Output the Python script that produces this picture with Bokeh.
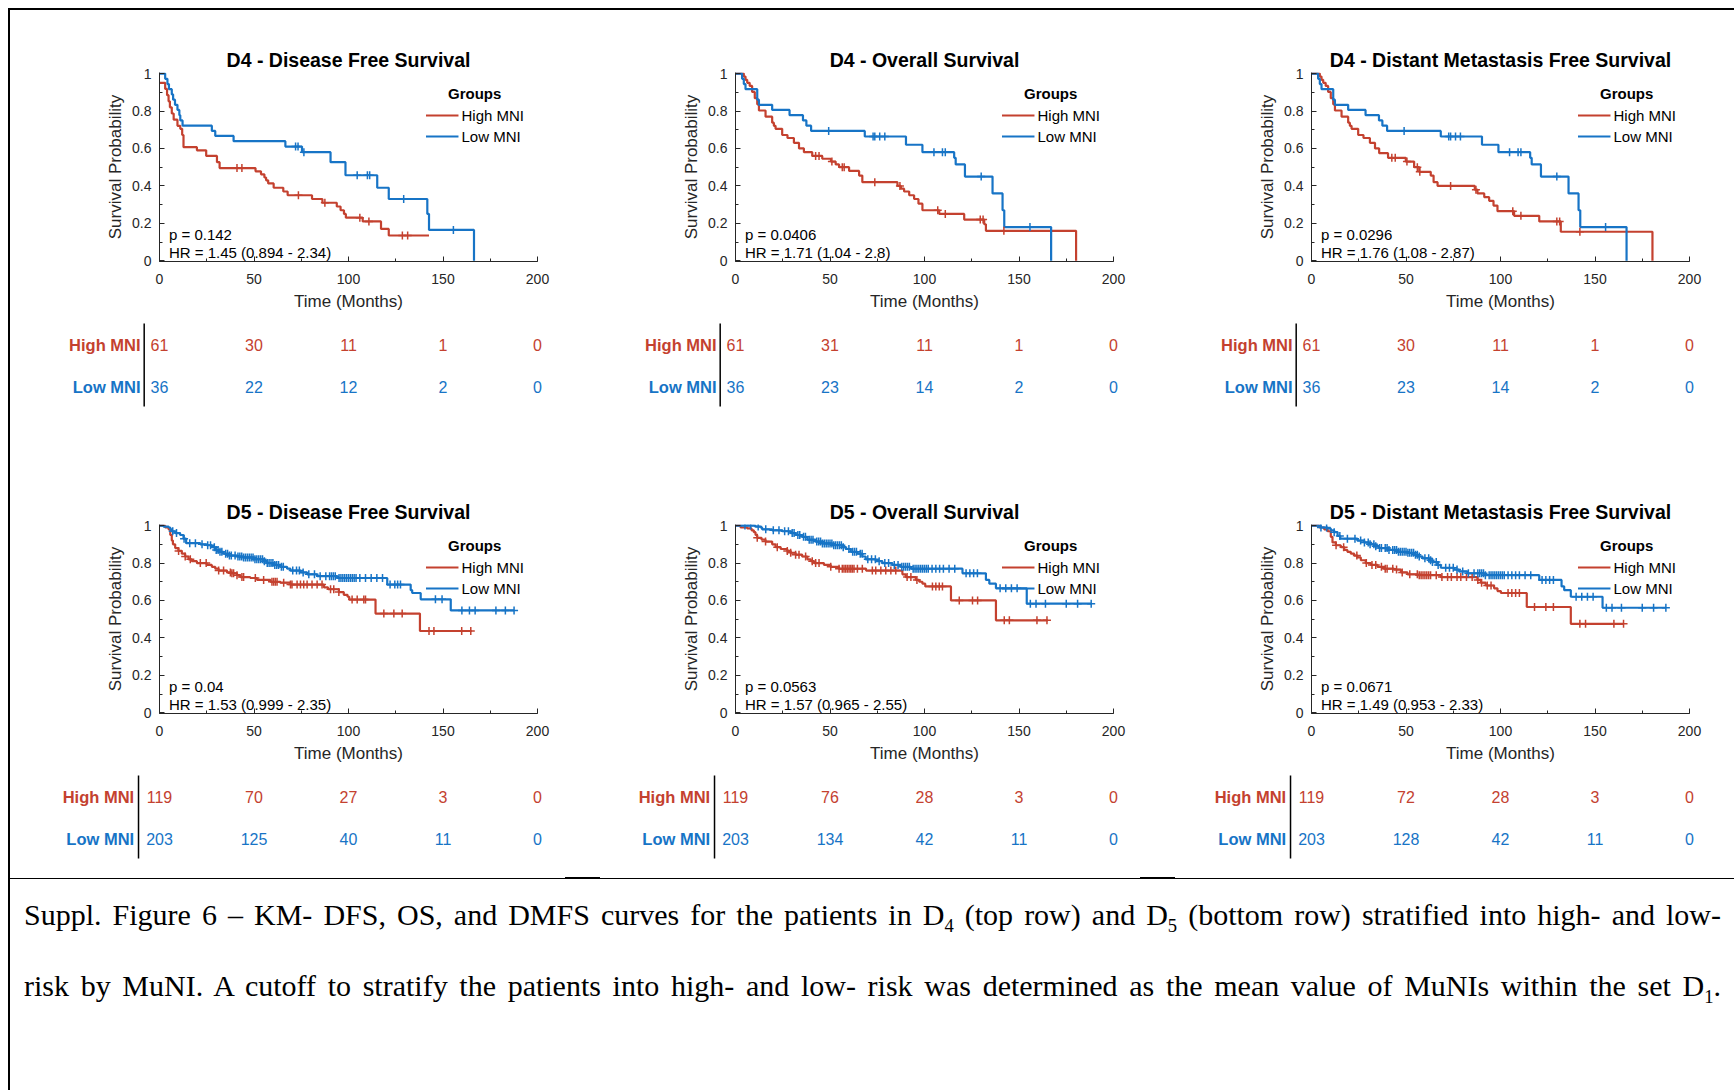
from bokeh.plotting import figure
from bokeh.models import Range1d, FixedTicker, NumeralTickFormatter, Label, Legend, LegendItem, Div, Arrow
from bokeh.layouts import column, row
from bokeh.embed import file_html
from bokeh.resources import INLINE

RED = "#C4412F"
BLUE = "#1774C6"
AXIS = "#262626"
FONT = "Liberation Sans"

x_ticks = [0, 50, 100, 150, 200]
x_minor = [0, 25, 50, 75, 100, 125, 150, 175, 200]
y_ticks = [0, 0.2, 0.4, 0.6, 0.8, 1]
y_minor = [0, 0.1, 0.2, 0.3, 0.4, 0.5, 0.6, 0.7, 0.8, 0.9, 1.0]
risk_times = [0, 50, 100, 150, 200]
group_labels = ["High MNI", "Low MNI"]

# ---------------- D4 - Disease Free Survival ----------------
d4_dfs_high_t = [0, 3.0, 4.0, 4.8, 5.5, 6.5, 7.5, 9.5, 11.0, 12.0, 12.7, 19.8, 24.7, 30.4, 31.8, 50.8, 53.7, 55.5, 56.4, 57.5, 60.4, 65.5, 67.8, 80.7, 86.2, 93.8, 95.8, 97.6, 98.6, 107.5, 117.2, 121.3, 142.6]
d4_dfs_high_s = [0.951, 0.918, 0.885, 0.852, 0.820, 0.787, 0.754, 0.721, 0.705, 0.672, 0.607, 0.590, 0.560, 0.527, 0.495, 0.478, 0.462, 0.445, 0.430, 0.413, 0.390, 0.370, 0.350, 0.330, 0.310, 0.290, 0.270, 0.250, 0.230, 0.210, 0.170, 0.135, 0.135]
d4_dfs_high_cens = [41.0, 43.6, 73.5, 87.5, 106.0, 110.8, 128.5, 131.3]
d4_dfs_low_t = [0, 3.0, 4.2, 5.0, 6.5, 7.2, 8.2, 9.5, 10.5, 11.0, 12.2, 27.7, 29.5, 39.2, 66.6, 75.4, 90.5, 98.4, 115.2, 121.3, 141.7, 142.6, 166.4]
d4_dfs_low_s = [1.0, 0.972, 0.944, 0.917, 0.889, 0.861, 0.833, 0.806, 0.778, 0.750, 0.722, 0.694, 0.667, 0.639, 0.610, 0.580, 0.527, 0.457, 0.390, 0.330, 0.250, 0.165, 0.0]
d4_dfs_low_cens = [72.0, 73.3, 76.4, 104.6, 110.0, 111.2, 129.2, 155.5]
d4_dfs_risk_high = [61, 30, 11, 1, 0]
d4_dfs_risk_low = [36, 22, 12, 2, 0]

# ---------------- D4 - Overall Survival ----------------
d4_os_high_t = [0, 4.4, 5.3, 6.2, 7.5, 8.8, 10.2, 11.5, 12.4, 15.9, 19.4, 20.3, 21.2, 24.7, 27.5, 30.9, 33.6, 36.2, 40.6, 45.9, 50.5, 53.0, 54.8, 60.1, 65.4, 67.1, 85.7, 87.5, 89.2, 91.9, 94.5, 96.8, 98.9, 107.8, 121.0, 131.6, 132.5, 180.2]
d4_os_high_s = [1.0, 0.984, 0.967, 0.951, 0.934, 0.902, 0.869, 0.836, 0.803, 0.770, 0.738, 0.721, 0.705, 0.672, 0.656, 0.630, 0.600, 0.580, 0.560, 0.545, 0.530, 0.515, 0.500, 0.480, 0.455, 0.420, 0.400, 0.385, 0.370, 0.350, 0.330, 0.305, 0.270, 0.250, 0.220, 0.195, 0.160, 0.0]
d4_os_high_cens = [42.4, 44.2, 51.0, 56.5, 57.5, 73.7, 87.0, 107.0, 111.0, 129.5, 131.0, 142.0]
d4_os_low_t = [0, 3.5, 4.4, 5.3, 11.5, 12.4, 19.4, 28.6, 35.7, 37.5, 40.0, 68.4, 90.2, 98.9, 115.7, 116.5, 121.4, 136.0, 141.3, 142.2, 167.0]
d4_os_low_s = [1.0, 0.972, 0.944, 0.917, 0.861, 0.833, 0.806, 0.778, 0.750, 0.722, 0.694, 0.664, 0.620, 0.580, 0.550, 0.515, 0.450, 0.360, 0.270, 0.180, 0.0]
d4_os_low_cens = [49.3, 72.8, 73.7, 76.3, 79.0, 105.0, 109.5, 111.0, 130.0, 155.8]
d4_os_risk_high = [61, 31, 11, 1, 0]
d4_os_risk_low = [36, 23, 14, 2, 0]

# ---------------- D4 - Distant Metastasis Free Survival ----------------
d4_dmfs_high_t = [0, 4.4, 5.3, 6.2, 7.5, 8.8, 10.2, 11.5, 12.4, 15.9, 19.4, 20.3, 21.2, 24.7, 27.5, 30.9, 33.6, 35.8, 40.5, 49.9, 54.3, 57.0, 63.1, 64.6, 66.7, 86.4, 87.8, 91.4, 94.0, 96.3, 98.4, 107.2, 120.5, 131.9, 180.4]
d4_dmfs_high_s = [1.0, 0.984, 0.967, 0.951, 0.934, 0.902, 0.869, 0.836, 0.803, 0.770, 0.738, 0.721, 0.705, 0.672, 0.656, 0.630, 0.600, 0.575, 0.550, 0.530, 0.500, 0.475, 0.455, 0.420, 0.400, 0.380, 0.360, 0.340, 0.320, 0.295, 0.265, 0.240, 0.210, 0.155, 0.0]
d4_dmfs_high_cens = [42.5, 44.3, 50.5, 56.0, 57.3, 73.6, 87.0, 106.5, 110.8, 129.8, 131.3, 142.0]
d4_dmfs_low_t = [0, 3.5, 4.4, 5.3, 11.5, 12.4, 19.4, 28.6, 35.7, 37.5, 40.0, 68.4, 90.2, 98.9, 115.7, 116.5, 121.4, 136.0, 141.3, 142.2, 166.7]
d4_dmfs_low_s = [1.0, 0.972, 0.944, 0.917, 0.861, 0.833, 0.806, 0.778, 0.750, 0.722, 0.694, 0.664, 0.620, 0.580, 0.550, 0.515, 0.450, 0.360, 0.270, 0.180, 0.0]
d4_dmfs_low_cens = [49.0, 72.6, 73.6, 76.2, 78.8, 104.8, 109.3, 110.8, 129.8, 155.6]
d4_dmfs_risk_high = [61, 30, 11, 1, 0]
d4_dmfs_risk_low = [36, 23, 14, 2, 0]

# ---------------- D5 - Disease Free Survival ----------------
d5_dfs_high_t = [0, 3.0, 4.8, 5.7, 6.5, 7.1, 8.3, 10.0, 11.8, 13.6, 15.4, 17.1, 19.8, 25.0, 27.7, 29.5, 31.3, 35.7, 38.3, 41.0, 42.8, 48.0, 51.6, 58.7, 64.0, 69.3, 87.0, 89.2, 94.9, 97.5, 99.5, 100.4, 114.3, 137.8, 165.2]
d5_dfs_high_s = [1.0, 0.99, 0.98, 0.95, 0.92, 0.90, 0.88, 0.865, 0.85, 0.835, 0.82, 0.81, 0.80, 0.79, 0.78, 0.77, 0.76, 0.75, 0.745, 0.735, 0.725, 0.72, 0.71, 0.70, 0.695, 0.685, 0.67, 0.66, 0.645, 0.63, 0.62, 0.605, 0.53, 0.437, 0.437]
d5_dfs_high_cens = [10.1, 13.6, 16.3, 21.6, 24.7, 31.3, 33.9, 37.5, 38.3, 39.2, 41.0, 43.6, 44.5, 50.7, 55.1, 59.5, 60.4, 61.3, 62.2, 65.7, 69.3, 70.1, 72.8, 74.6, 76.3, 78.1, 80.7, 83.4, 86.0, 90.5, 92.2, 94.9, 101.9, 104.6, 108.1, 109.0, 118.7, 124.0, 128.4, 142.6, 145.2, 159.9, 164.7]
d5_dfs_low_t = [0, 2.1, 4.8, 5.7, 6.5, 8.3, 10.9, 12.7, 14.1, 21.6, 25.0, 27.7, 29.5, 31.3, 33.9, 36.6, 41.0, 44.5, 49.8, 55.1, 56.9, 60.4, 64.0, 67.5, 69.3, 74.6, 78.1, 83.4, 94.0, 120.5, 132.9, 133.7, 138.2, 154.1, 187.6]
d5_dfs_low_s = [1.0, 0.995, 0.99, 0.98, 0.97, 0.96, 0.95, 0.93, 0.906, 0.90, 0.895, 0.885, 0.87, 0.86, 0.85, 0.84, 0.835, 0.83, 0.82, 0.81, 0.80, 0.79, 0.78, 0.77, 0.76, 0.75, 0.74, 0.73, 0.72, 0.685, 0.655, 0.64, 0.606, 0.547, 0.547]
d5_dfs_low_cens = [7.0, 9.0, 13.0, 16.0, 19.0, 22.5, 25.5, 27.0, 29.0, 30.0, 31.0, 32.0, 33.0, 35.0, 36.0, 37.0, 38.0, 40.0, 41.5, 42.5, 43.5, 44.5, 45.5, 46.5, 47.5, 48.5, 49.5, 50.5, 51.5, 52.5, 53.5, 54.5, 55.5, 57.0, 58.0, 59.0, 60.0, 61.0, 62.0, 63.0, 64.5, 65.5, 70.5, 72.5, 74.0, 76.0, 79.0, 82.0, 85.0, 88.0, 90.0, 91.0, 92.0, 93.0, 95.0, 96.0, 97.0, 98.0, 99.0, 100.0, 101.0, 102.0, 103.0, 104.0, 106.0, 109.0, 112.0, 115.0, 118.0, 122.0, 124.5, 126.0, 127.5, 146.0, 149.5, 160.0, 164.0, 167.0, 178.0, 183.0, 187.6]
d5_dfs_risk_high = [119, 70, 27, 3, 0]
d5_dfs_risk_low = [203, 125, 40, 11, 0]

# ---------------- D5 - Overall Survival ----------------
d5_os_high_t = [0, 2.7, 6.2, 8.5, 9.7, 10.6, 11.5, 13.8, 15.9, 19.4, 21.2, 23.9, 27.4, 29.2, 31.8, 35.3, 38.0, 39.8, 41.5, 46.8, 50.4, 54.8, 69.1, 88.3, 90.1, 95.4, 97.2, 98.9, 100.4, 114.0, 137.8, 165.2]
d5_os_high_s = [1.0, 0.99, 0.985, 0.975, 0.965, 0.95, 0.935, 0.925, 0.915, 0.90, 0.885, 0.875, 0.865, 0.855, 0.845, 0.835, 0.82, 0.81, 0.80, 0.79, 0.78, 0.77, 0.76, 0.74, 0.725, 0.71, 0.70, 0.69, 0.675, 0.60, 0.494, 0.494]
d5_os_high_cens = [11.5, 15.9, 22.1, 27.4, 29.2, 31.8, 33.6, 37.1, 40.6, 42.4, 44.2, 50.4, 54.8, 56.5, 57.4, 58.3, 59.2, 60.1, 61.0, 61.8, 62.7, 64.5, 67.1, 72.4, 74.2, 76.9, 79.5, 82.2, 84.8, 90.8, 92.8, 96.0, 104.2, 106.0, 107.8, 109.5, 118.4, 125.4, 128.1, 142.2, 144.9, 159.5, 164.8]
d5_os_low_t = [0, 10.6, 13.2, 14.1, 19.4, 24.7, 29.2, 31.8, 35.3, 38.0, 42.4, 45.9, 51.2, 56.5, 58.3, 61.0, 64.5, 67.1, 68.9, 74.2, 77.7, 83.0, 87.5, 92.8, 120.1, 132.5, 134.3, 137.8, 154.1, 188.2]
d5_os_low_s = [1.0, 0.995, 0.99, 0.98, 0.975, 0.97, 0.96, 0.95, 0.94, 0.925, 0.915, 0.905, 0.895, 0.885, 0.875, 0.86, 0.85, 0.835, 0.82, 0.81, 0.80, 0.79, 0.78, 0.77, 0.745, 0.71, 0.69, 0.665, 0.583, 0.583]
d5_os_low_cens = [5.0, 8.0, 12.0, 16.0, 20.0, 23.0, 26.0, 28.0, 30.0, 31.0, 33.0, 34.0, 36.0, 37.0, 39.0, 40.0, 41.0, 43.0, 44.0, 45.0, 46.0, 47.0, 48.0, 49.0, 50.0, 51.0, 52.0, 53.0, 54.0, 55.0, 56.0, 57.0, 60.0, 62.0, 63.0, 64.0, 66.0, 67.0, 70.0, 72.0, 74.0, 76.0, 79.0, 81.0, 84.0, 86.0, 88.0, 89.0, 90.0, 91.0, 92.0, 94.0, 95.0, 96.0, 97.0, 98.0, 99.0, 100.0, 101.0, 102.0, 104.0, 106.0, 108.0, 110.0, 113.0, 116.0, 122.0, 124.0, 126.0, 128.0, 140.0, 143.0, 146.0, 149.0, 156.0, 159.0, 164.0, 175.0, 181.0, 188.2]
d5_os_risk_high = [119, 76, 28, 3, 0]
d5_os_risk_low = [203, 134, 42, 11, 0]

# ---------------- D5 - Distant Metastasis Free Survival ----------------
d5_dmfs_high_t = [0, 4.1, 6.7, 8.5, 10.2, 11.1, 12.9, 15.5, 17.3, 19.0, 20.8, 22.6, 24.3, 26.1, 28.7, 31.4, 34.9, 38.4, 43.7, 47.3, 50.8, 56.1, 68.4, 87.8, 89.6, 92.2, 96.6, 98.4, 100.2, 113.9, 137.2, 165.1]
d5_dmfs_high_s = [1.0, 0.99, 0.98, 0.97, 0.94, 0.91, 0.895, 0.885, 0.87, 0.86, 0.85, 0.84, 0.83, 0.815, 0.80, 0.79, 0.78, 0.77, 0.765, 0.75, 0.74, 0.735, 0.725, 0.71, 0.695, 0.68, 0.665, 0.65, 0.64, 0.565, 0.475, 0.475]
d5_dmfs_high_cens = [13.0, 17.0, 24.0, 29.0, 32.0, 34.0, 37.0, 39.0, 40.0, 43.0, 45.0, 48.0, 52.0, 56.0, 57.0, 58.0, 59.0, 60.0, 61.0, 62.0, 63.0, 66.0, 69.0, 72.0, 74.0, 77.0, 79.0, 82.0, 85.0, 88.0, 90.0, 93.0, 95.0, 104.0, 106.0, 108.0, 110.0, 118.0, 124.0, 128.0, 142.0, 145.0, 160.0, 165.1]
d5_dmfs_low_t = [0, 4.9, 8.5, 10.2, 12.0, 13.8, 15.2, 24.3, 27.9, 30.5, 33.2, 35.8, 40.2, 45.5, 50.8, 54.3, 56.1, 58.7, 62.3, 64.0, 66.7, 68.4, 75.5, 78.1, 82.5, 91.3, 120.5, 132.3, 133.7, 137.2, 154.0, 187.5]
d5_dmfs_low_s = [1.0, 0.99, 0.985, 0.975, 0.965, 0.945, 0.93, 0.92, 0.91, 0.90, 0.89, 0.88, 0.87, 0.86, 0.855, 0.845, 0.835, 0.825, 0.815, 0.805, 0.79, 0.775, 0.765, 0.755, 0.745, 0.735, 0.71, 0.675, 0.655, 0.62, 0.561, 0.561]
d5_dmfs_low_cens = [5.0, 8.0, 12.0, 15.0, 19.0, 23.0, 26.0, 28.0, 30.0, 31.0, 33.0, 34.0, 36.0, 37.0, 39.0, 40.0, 41.0, 43.0, 44.0, 45.0, 46.0, 47.0, 48.0, 49.0, 50.0, 51.0, 52.0, 53.0, 54.0, 55.0, 56.0, 57.0, 60.0, 62.0, 63.0, 64.0, 66.0, 67.0, 71.0, 73.0, 75.0, 77.0, 80.0, 83.0, 86.0, 88.0, 89.0, 90.0, 91.0, 92.0, 94.0, 95.0, 96.0, 97.0, 98.0, 99.0, 100.0, 101.0, 102.0, 104.0, 106.0, 108.0, 110.0, 113.0, 116.0, 122.0, 124.0, 126.0, 128.0, 140.0, 143.0, 146.0, 149.0, 156.0, 159.0, 164.0, 175.0, 181.0, 187.5]
d5_dmfs_risk_high = [119, 72, 28, 3, 0]
d5_dmfs_risk_low = [203, 128, 42, 11, 0]

titles = ["D4 - Disease Free Survival", "D4 - Overall Survival", "D4 - Distant Metastasis Free Survival",
          "D5 - Disease Free Survival", "D5 - Overall Survival", "D5 - Distant Metastasis Free Survival"]
p_texts = ["p = 0.142", "p = 0.0406", "p = 0.0296", "p = 0.04", "p = 0.0563", "p = 0.0671"]
hr_texts = ["HR = 1.45 (0.894 - 2.34)", "HR = 1.71 (1.04 - 2.8)", "HR = 1.76 (1.08 - 2.87)",
            "HR = 1.53 (0.999 - 2.35)", "HR = 1.57 (0.965 - 2.55)", "HR = 1.49 (0.953 - 2.33)"]
legend_title = "Groups"

caption_line1 = ('Suppl. Figure 6 \u2013 KM- DFS, OS, and DMFS curves for the patients in D<sub>4</sub> (top row) '
                 'and D<sub>5</sub> (bottom row) stratified into high- and low-')
caption_line2 = ('risk by MuNI. A cutoff to stratify the patients into high- and low- risk was determined as the '
                 'mean value of MuNIs within the set D<sub>1</sub>.')

panels = [
    (d4_dfs_high_t, d4_dfs_high_s, d4_dfs_high_cens, d4_dfs_low_t, d4_dfs_low_s, d4_dfs_low_cens, d4_dfs_risk_high, d4_dfs_risk_low),
    (d4_os_high_t, d4_os_high_s, d4_os_high_cens, d4_os_low_t, d4_os_low_s, d4_os_low_cens, d4_os_risk_high, d4_os_risk_low),
    (d4_dmfs_high_t, d4_dmfs_high_s, d4_dmfs_high_cens, d4_dmfs_low_t, d4_dmfs_low_s, d4_dmfs_low_cens, d4_dmfs_risk_high, d4_dmfs_risk_low),
    (d5_dfs_high_t, d5_dfs_high_s, d5_dfs_high_cens, d5_dfs_low_t, d5_dfs_low_s, d5_dfs_low_cens, d5_dfs_risk_high, d5_dfs_risk_low),
    (d5_os_high_t, d5_os_high_s, d5_os_high_cens, d5_os_low_t, d5_os_low_s, d5_os_low_cens, d5_os_risk_high, d5_os_risk_low),
    (d5_dmfs_high_t, d5_dmfs_high_s, d5_dmfs_high_cens, d5_dmfs_low_t, d5_dmfs_low_s, d5_dmfs_low_cens, d5_dmfs_risk_high, d5_dmfs_risk_low),
]

# ---------------- geometry ----------------
FRAME_W = 378
FRAME_H = 189
LEFT_B = 149
PXM = FRAME_W / 200.0
TAB_LEFT = 50
TAB_RIGHT = 22
TAB_H = 105
ROW_PX = 42.0
ROW0_PX = 29.0


def censor_y(ts, ss, cens):
    out = []
    for c in cens:
        v = ss[0]
        for t, s in zip(ts, ss):
            if t <= c:
                v = s
            else:
                break
        out.append(v)
    return out


def style_axes(p):
    for ax in (p.xaxis[0], p.yaxis[0]):
        ax.axis_line_color = AXIS
        ax.axis_line_width = 1
        ax.major_tick_line_color = AXIS
        ax.minor_tick_line_color = AXIS
        ax.major_tick_in = 5
        ax.major_tick_out = 0
        ax.minor_tick_in = 3
        ax.minor_tick_out = 0
        ax.major_label_text_font = FONT
        ax.major_label_text_font_size = "14px"
        ax.major_label_text_color = AXIS
        ax.axis_label_text_font = FONT
        ax.axis_label_text_font_size = "17px"
        ax.axis_label_text_font_style = "normal"
        ax.axis_label_text_color = AXIS
    xa = p.xaxis[0]
    xa.ticker = FixedTicker(ticks=x_ticks, minor_ticks=x_minor)
    xa.axis_label = "Time (Months)"
    xa.major_label_standoff = 12
    xa.axis_label_standoff = 5
    ya = p.yaxis[0]
    ya.ticker = FixedTicker(ticks=y_ticks, minor_ticks=y_minor)
    ya.formatter = NumeralTickFormatter(format="0.[0]")
    ya.axis_label = "Survival Probability"
    ya.major_label_standoff = 8
    ya.axis_label_standoff = 4


def make_km(i, top_b, right_b):
    ht, hs, hc, lt, ls, lc, rh, rl = panels[i]
    p = figure(frame_width=FRAME_W, frame_height=FRAME_H,
               x_range=Range1d(0, 200), y_range=Range1d(-0.004, 1.006),
               min_border_left=LEFT_B, min_border_right=right_b,
               min_border_top=top_b, min_border_bottom=54,
               title=titles[i], output_backend="svg", toolbar_location=None)
    p.outline_line_color = None
    p.xgrid.visible = False
    p.ygrid.visible = False
    p.title.text_font = FONT
    p.title.text_font_size = "19.5px"
    p.title.text_font_style = "bold"
    p.title.text_color = "black"
    p.title.align = "center"
    p.title.standoff = 3
    style_axes(p)

    r_hi = p.step(ht, hs, mode="after", line_color=RED, line_width=2.2)
    r_lo = p.step(lt, ls, mode="after", line_color=BLUE, line_width=2.2)
    p.scatter(hc, censor_y(ht, hs, hc), marker="cross", size=8, line_color=RED, line_width=1.5)
    p.scatter(lc, censor_y(lt, ls, lc), marker="cross", size=8, line_color=BLUE, line_width=1.5)

    leg = Legend(items=[LegendItem(label=group_labels[0], renderers=[r_hi]),
                        LegendItem(label=group_labels[1], renderers=[r_lo])],
                 title="\u2002\u2002\u2002" + legend_title, location="top_right", margin=5, padding=8,
                 spacing=3, label_height=18, glyph_height=18, glyph_width=33,
                 label_standoff=3, title_standoff=4,
                 background_fill_alpha=0, border_line_alpha=0,
                 label_text_font=FONT, label_text_font_size="15px", label_text_color="black",
                 title_text_font=FONT, title_text_font_size="15px", title_text_font_style="bold",
                 title_text_color="black")
    p.add_layout(leg)

    p.add_layout(Label(x=5, y=0.14, text=p_texts[i], text_font=FONT, text_font_size="15px",
                       text_baseline="middle", text_color="black"))
    p.add_layout(Label(x=5, y=0.042, text=hr_texts[i], text_font=FONT, text_font_size="15px",
                       text_baseline="middle", text_color="black"))
    return p


def make_table(i, right_b, lab_x, div_x):
    ht, hs, hc, lt, ls, lc, rh, rl = panels[i]
    total_w = LEFT_B + FRAME_W + right_b
    fw = total_w - TAB_LEFT - TAB_RIGHT
    x0 = -(LEFT_B - TAB_LEFT) / PXM
    x1 = x0 + fw / PXM
    y_top = -ROW0_PX / ROW_PX
    y_bot = (TAB_H - ROW0_PX) / ROW_PX
    t = figure(frame_width=fw, frame_height=TAB_H,
               x_range=Range1d(x0, x1), y_range=Range1d(y_bot, y_top),
               min_border_left=TAB_LEFT, min_border_right=TAB_RIGHT,
               min_border_top=0, min_border_bottom=0,
               x_axis_location=None, y_axis_location=None,
               output_backend="svg", toolbar_location=None)
    t.outline_line_color = None
    t.xgrid.visible = False
    t.ygrid.visible = False
    for row_i, (counts, col) in enumerate([(rh, RED), (rl, BLUE)]):
        for xv, n in zip(risk_times, counts):
            t.add_layout(Label(x=xv, y=row_i, text=str(n), text_align="center", text_baseline="middle",
                               text_color=col, text_font=FONT, text_font_size="16px"))
        t.add_layout(Label(x=lab_x, y=row_i, text=group_labels[row_i], text_align="right",
                           text_baseline="middle", text_color=col, text_font=FONT,
                           text_font_size="16.5px", text_font_style="bold"))
    t.add_layout(Arrow(end=None, start=None, x_start=div_x, y_start=(8 - ROW0_PX) / ROW_PX,
                       x_end=div_x, y_end=(91 - ROW0_PX) / ROW_PX,
                       line_color="black", line_width=1.5))
    return t


right_borders = [49, 49, 39]
km_top = [make_km(j, 62, right_borders[j]) for j in range(3)]
tab_top = [make_table(j, right_borders[j], -10.0, -8.1) for j in range(3)]
km_bot = [make_km(3 + j, 104, right_borders[j]) for j in range(3)]
tab_bot = [make_table(3 + j, right_borders[j], -13.4, -11.1) for j in range(3)]

sub_style = '<sub style="font-size:0.62em;line-height:0;">'
caption_html = (
    '<div style="position:relative;width:1724px;height:214px;">'
    '<div style="position:absolute;left:0px;top:6px;width:1724px;height:0px;border-top:1.5px solid #000;"></div>'
    '<div style="position:absolute;left:555px;top:4.5px;width:35px;height:2px;background:#000;"></div>'
    '<div style="position:absolute;left:1130px;top:4.5px;width:35px;height:2px;background:#000;"></div>'
    '<div style="position:absolute;left:14px;top:7px;width:1697px;font-family:\'Liberation Serif\',serif;'
    'font-size:30px;line-height:71px;color:#000;">'
    '<div style="text-align:justify;text-align-last:justify;">' + caption_line1.replace('<sub>', sub_style) + '</div>'
    '<div style="text-align:justify;text-align-last:justify;">' + caption_line2.replace('<sub>', sub_style) + '</div>'
    '</div></div>'
)
caption = Div(text=caption_html, width=1724, height=214, margin=0)

content = column(row(*km_top), row(*tab_top), row(*km_bot), row(*tab_bot), caption)
left_line = Div(text="", width=2, height=1080, margin=0, styles={"background-color": "#000"})
top_line = Div(text="", width=1726, height=2, margin=0, styles={"background-color": "#000"})
page = column(top_line, row(left_line, content), margin=(8, 0, 0, 8))

open("out.html", "w").write(file_html(page, INLINE, title="Suppl. Figure 6"))
